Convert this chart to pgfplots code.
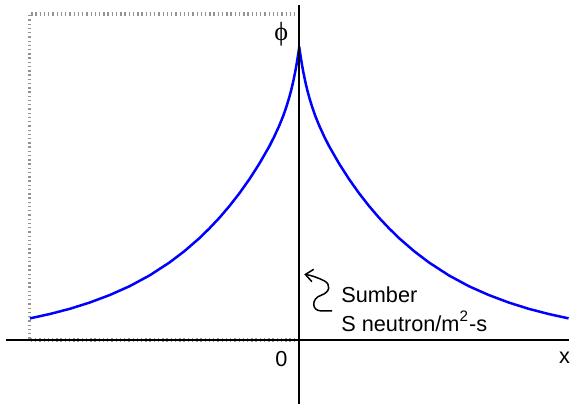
\documentclass[border=0pt]{standalone}
\usepackage{pgfplots}
\pgfplotsset{compat=1.18}
\usepackage{fontspec}
\setmainfont{Liberation Sans}
\newfontfamily\seriffont{Liberation Serif}
\usetikzlibrary{arrows.meta}

% neutron flux on both sides of the plane source (x = 0 at the source)
\pgfplotstableread{
x     phi
-270  21.8
-250  26.2
-230  31.4
-210  37.7
-190  45.2
-170  54.1
-150  64.9
-130  77.9
-115  89.3
-100  102.3
-90   112.1
-80   122.7
-70   134.4
-60   147.2
-50   161.3
-40   176.9
-30   194.3
-25   204.2
-20   215.1
-16   225.0
-13   233.6
-10   243.4
-8    250.9
-6    259.4
-4    269.2
-3    274.7
-2    280.6
-1    287.0
0     294.0
1     287.0
2     280.6
3     274.7
4     269.2
6     259.4
8     250.9
10    243.4
13    233.6
16    225.0
20    215.1
25    204.2
30    194.3
40    176.9
50    161.3
60    147.2
70    134.4
80    122.7
90    112.1
100   102.3
115   89.3
130   77.9
150   64.9
170   54.1
190   45.2
210   37.7
230   31.4
250   26.2
270   21.8
}\flux

\begin{document}
\begin{tikzpicture}
\begin{axis}[
  x=0.4pt, y=0.4pt,
  xmin=-300, xmax=270, ymin=-65, ymax=341,
  hide axis, clip=false,
]
% extent of the drawing
\path (axis cs:-300,-65) rectangle (axis cs:270,341);

% dotted frame on the left half (its right edge is the phi axis)
\draw[gray!85, line width=1.4pt, dash pattern=on 0.55pt off 1.15pt]
  (axis cs:0,0) -- (axis cs:-270.5,0) -- (axis cs:-270.5,327) -- (axis cs:0,327);

% flux curve
\addplot[blue, line width=1pt, line join=round] table[x=x, y=phi] {\flux};

% coordinate axes
\draw[black, line width=0.7pt] (axis cs:-294,0) -- (axis cs:270,0);
\draw[black, line width=0.7pt] (axis cs:0,-64) -- (axis cs:0,336);

% labels
\node[inner sep=0pt, font=\seriffont\fontsize{10.5}{12}\selectfont] at (axis cs:-18,307) {ϕ};
\node[inner sep=0pt, font=\fontsize{8.7}{10}\selectfont] at (axis cs:-18,-19) {0};
\node[inner sep=0pt, font=\fontsize{8.7}{10}\selectfont] at (axis cs:266,-18) {x};

% source annotation
\draw[black, line width=0.6pt, -{Straight Barb[length=3pt, width=5pt]}]
  (axis cs:33,29.3) -- (axis cs:22,29.3)
  .. controls (axis cs:12,29.3) and (axis cs:12,42) .. (axis cs:22,45)
  .. controls (axis cs:31,48) and (axis cs:32,56) .. (axis cs:25,59.5)
  .. controls (axis cs:19,62.5) and (axis cs:12,65) .. (axis cs:5,66);
\node[font=\fontsize{8.7}{10}\selectfont, anchor=base west, inner sep=0pt]
  at (axis cs:41.7,38) {Sumber};
\node[font=\fontsize{8.7}{10}\selectfont, anchor=base west, inner sep=0pt]
  at (axis cs:41.7,9) {S neutron/m\textsuperscript{2}-s};
\end{axis}
\end{tikzpicture}
\end{document}
